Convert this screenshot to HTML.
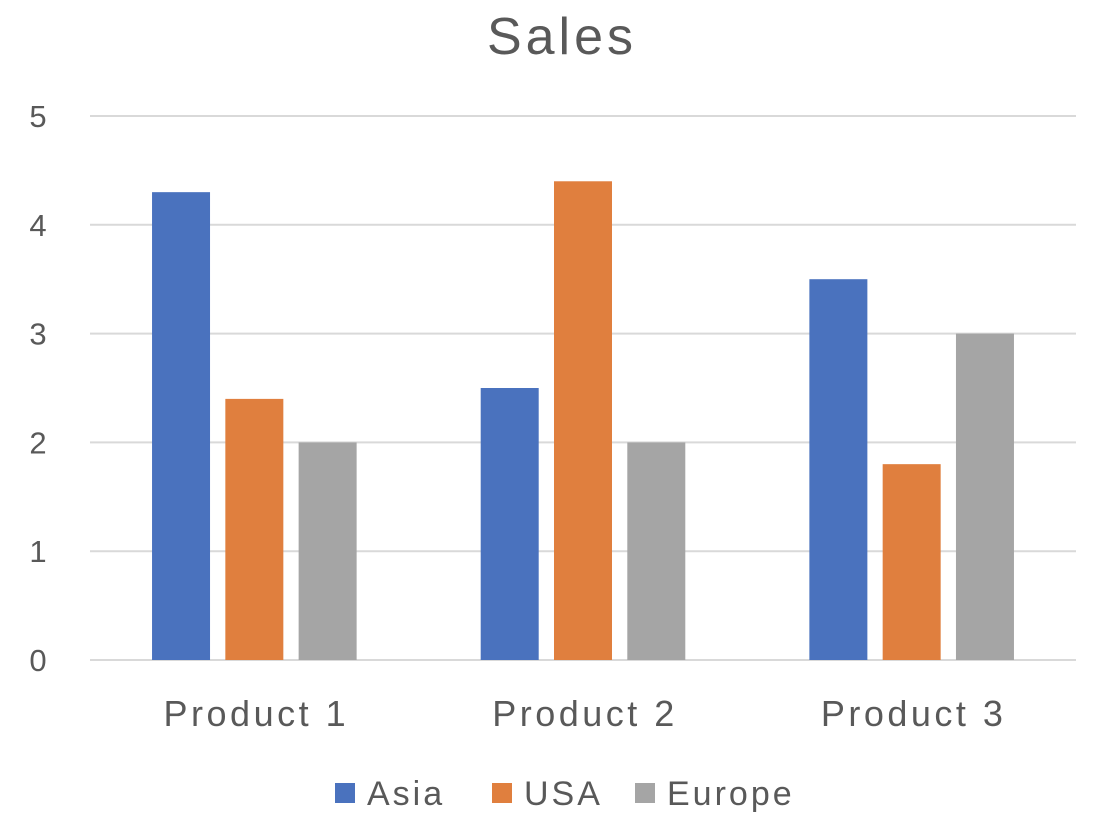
<!DOCTYPE html>
<html><head><meta charset="utf-8"><style>
body{margin:0;background:#fff;}
svg text{font-family:"Liberation Sans",sans-serif;fill:#595959;}
</style></head><body>
<svg width="1096" height="820" id="c">
<text x="562" y="54" font-size="52" letter-spacing="4" text-anchor="middle">Sales</text>
</svg>
<script>
const categories=["Product 1","Product 2","Product 3"];
const seriesNames=["Asia","USA","Europe"];
const asia=[4.3,2.5,3.5];
const usa=[2.4,4.4,1.8];
const europe=[2,2,3];
const yTicks=[0,1,2,3,4,5];
const colors=["#4a72be","#e07f3e","#a5a5a5"];
const svg=document.getElementById('c');
const NS="http://www.w3.org/2000/svg";
const x0=90,x1=1076,yBase=660,yTop=116,yMax=5;
const y=v=>yBase-(yBase-yTop)*v/yMax;
const bandW=(x1-x0)/categories.length;
const xc=i=>x0+bandW*(i+0.5);
function mk(t,a){const e=document.createElementNS(NS,t);for(const k in a)e.setAttribute(k,a[k]);svg.appendChild(e);return e;}
yTicks.forEach(t=>{
 const l=mk('line',{x1:x0,x2:x1,y1:y(t),y2:y(t),stroke:"#d9d9d9","stroke-width":2});
 
 
 const tx=mk('text',{x:38,y:y(t)+11,"font-size":31,"text-anchor":"middle"});tx.textContent=t;
 
 
});
const series=[asia,usa,europe];
const bw=58,step=73.3;
series.forEach((s,si)=>{
 s.forEach((v,i)=>{
  const bx=xc(i)+(si-1)*step-bw/2;
  const r=mk('rect',{x:bx,y:y(v),width:bw,height:yBase-y(v),fill:colors[si]});
  
  
 });
});
categories.forEach((c,i)=>{
 const t=mk('text',{x:xc(i)+2,y:726,"font-size":36,"letter-spacing":3.5,"text-anchor":"middle"});t.textContent=c;
 
 
});
const lx=[335,492,635];
seriesNames.forEach((n,i)=>{
 const r=mk('rect',{x:lx[i],y:783,width:20,height:20,fill:colors[i]});
 
 
 const t=mk('text',{x:lx[i]+32,y:805,"font-size":34,"letter-spacing":3});t.textContent=n;
 
 
});
</script>
</body></html>
